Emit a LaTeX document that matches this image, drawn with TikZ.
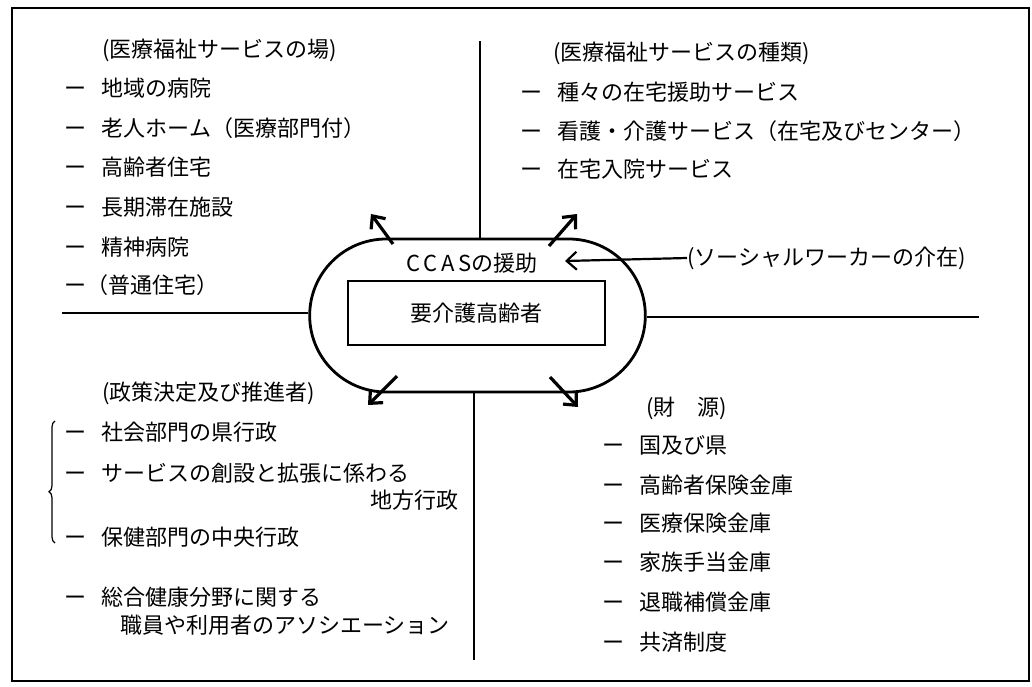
\documentclass[tikz,border=0pt]{standalone}
\usepackage{fontspec}
\usetikzlibrary{arrows.meta,shapes.misc,decorations.pathreplacing}
\newfontfamily\jpfont{Noto Sans CJK JP}
\newcommand{\listdash}{ー\hspace{0.7em}}

\begin{document}
\begin{tikzpicture}[x=0.5pt,y=-0.5pt,
  txt/.style={anchor=west,inner sep=0pt,
              font=\jpfont\fontsize{11}{13}\selectfont},
  frame/.style={line width=0.9pt},
  cross/.style={line width=0.8pt},
  ring/.style={draw,rounded rectangle,line width=1.4pt,
               minimum width=174.5pt,minimum height=76.5pt},
  core/.style={draw,rectangle,line width=0.9pt,inner sep=0pt,
               minimum width=128.5pt,minimum height=32pt,
               font=\jpfont\fontsize{11}{13}\selectfont},
  arr/.style={-{Straight Barb[length=5pt,width=9pt]},line width=1.6pt}
]
  \useasboundingbox (0,0) rectangle (1032,686);
  \draw[frame] (12,8) rectangle (1029,681);

  % ---- Centre: stadium and inner box -------------------------
  \node[ring] (ccas) at (477.5,315.5) {};
  \node[core] (elder) at (476.5,313) {要介護高齢者};
  \node[txt,anchor=center] (aid) at (472,263)
    {{\addfontfeature{LetterSpace=18}CCAS}の援助};

  % ---- Cross lines dividing the four fields -----------------
  \coordinate (topEnd) at (480,41);
  \coordinate (botEnd) at (474,660);
  \coordinate (leftEnd) at (62,313);
  \coordinate (rightEnd) at (979,317);
  \draw[cross] (topEnd) -- (topEnd |- ccas.north);
  \draw[cross] (ccas.south -| botEnd) -- (botEnd);
  \draw[cross] (leftEnd) -- (leftEnd -| ccas.west);
  \draw[cross] (ccas.east |- rightEnd) -- (rightEnd);

  % ---- Arrows out of the stadium ----------------------------
  \coordinate (ulFrom) at (393,244);  \coordinate (ulTo) at (371,214);
  \coordinate (urFrom) at (549,246);  \coordinate (urTo) at (577,214);
  \coordinate (llFrom) at (397,376);  \coordinate (llTo) at (368,405);
  \coordinate (lrFrom) at (550,377);  \coordinate (lrTo) at (578,407);
  \draw[arr] (ulFrom) -- (ulTo);
  \draw[arr] (urFrom) -- (urTo);
  \draw[arr] (llFrom) -- (llTo);
  \draw[arr] (lrFrom) -- (lrTo);

  % social worker
  \node[txt] (sw) at (687,258) {(ソーシャルワーカーの介在)};
  \coordinate (swTo) at (565,261);
  \draw[arr,line width=1.1pt] (sw.west) -- (swTo);

  % ---- Places of care (top left) ----------------------------
  \node[txt] (places) at (102,50) {(医療福祉サービスの場)};
  \node[txt] (p1) at (64,88)  {\listdash 地域の病院};
  \node[txt] (p2) at (64,128) {\listdash 老人ホーム（医療部門付）};
  \node[txt] (p3) at (64,167) {\listdash 高齢者住宅};
  \node[txt] (p4) at (64,207) {\listdash 長期滞在施設};
  \node[txt] (p5) at (64,247) {\listdash 精神病院};
  \node[txt] (p6) at (64,285) {ー（普通住宅）};

  % ---- Kinds of service (top right) -------------------------
  \node[txt] (kinds) at (553,53) {(医療福祉サービスの種類)};
  \node[txt] (k1) at (520,92)  {\listdash 種々の在宅援助サービス};
  \node[txt] (k2) at (520,131) {\listdash 看護・介護サービス（在宅及びセンター）};
  \node[txt] (k3) at (520,169) {\listdash 在宅入院サービス};

  % ---- Policy makers (bottom left) --------------------------
  \node[txt] (policy) at (102,393) {(政策決定及び推進者)};
  \node[txt] (m1) at (64,432) {\listdash 社会部門の県行政};
  \node[txt] (m2) at (64,473) {\listdash サービスの創設と拡張に係わる};
  \node[txt] (m2b) at (370,500) {地方行政};
  \node[txt] (m3) at (64,537) {\listdash 保健部門の中央行政};
  \node[txt] (m4) at (64,597) {\listdash 総合健康分野に関する};
  \node[txt] (m4b) at (120,625) {職員や利用者のアソシエーション};
  \draw[line width=0.6pt,decorate,
        decoration={brace,amplitude=3pt,aspect=0.42}]
    (55,543) -- (55,421);

  % ---- Funding (bottom right) -------------------------------
  \node[txt] (funds) at (646,408) {(財　源)};
  \node[txt] (f1) at (602,445) {\listdash 国及び県};
  \node[txt] (f2) at (602,485) {\listdash 高齢者保険金庫};
  \node[txt] (f3) at (602,523) {\listdash 医療保険金庫};
  \node[txt] (f4) at (602,562) {\listdash 家族手当金庫};
  \node[txt] (f5) at (602,602) {\listdash 退職補償金庫};
  \node[txt] (f6) at (602,642) {\listdash 共済制度};

\end{tikzpicture}
\end{document}
